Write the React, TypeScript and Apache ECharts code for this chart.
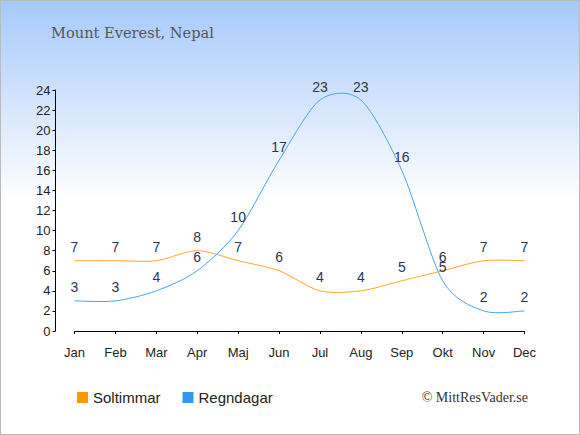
import React, { useEffect, useRef } from "react";
import * as echarts from "echarts";

const months = ["Jan", "Feb", "Mar", "Apr", "Maj", "Jun", "Jul", "Aug", "Sep", "Okt", "Nov", "Dec"];
const soltimmar = [7, 7, 7, 8, 7, 6, 4, 4, 5, 6, 7, 7];
const regndagar = [3, 3, 4, 6, 10, 17, 23, 23, 16, 5, 2, 2];
const seriesNames = ["Soltimmar", "Regndagar"];
const seriesColors = ["#ff9900", "#3399ee"];
const lineColors = ["#ffa726", "#4aa3ec"];
const titleText = "Mount Everest, Nepal";
const creditText = "© MittResVader.se";

const K = 0.14;

function makeRenderItem(values: number[], stroke: string) {
  return (params: any, api: any) => {
    const i = params.dataIndex;
    if (i >= values.length - 1) return null;
    const n = values.length;
    const p = (j: number) => {
      const jj = Math.max(0, Math.min(n - 1, j));
      return api.coord([jj, values[jj]]);
    };
    const p0 = p(i - 1);
    const p1 = p(i);
    const p2 = p(i + 1);
    const p3 = p(i + 2);
    const c1 = [p1[0] + (p2[0] - p0[0]) * K, p1[1] + (p2[1] - p0[1]) * K];
    const c2 = [p2[0] - (p3[0] - p1[0]) * K, p2[1] - (p3[1] - p1[1]) * K];
    const d = `M${p1[0]},${p1[1]} C${c1[0]},${c1[1]} ${c2[0]},${c2[1]} ${p2[0]},${p2[1]}`;
    return {
      type: "path",
      shape: { pathData: d },
      style: { stroke, fill: "none", lineWidth: 1 },
      silent: true,
    };
  };
}

export default function App() {
  const ref = useRef<HTMLDivElement>(null);
  useEffect(() => {
    document.body.style.margin = "0";
    if (!ref.current) return;
    const chart = echarts.init(ref.current, null, { renderer: "svg" });
    const labelStyle = {
      show: true,
      position: "top" as const,
      distance: 6,
      color: "#2a3550",
      fontSize: 14,
      fontFamily: "Liberation Sans, Arial, sans-serif",
    };
    const allValues = [soltimmar, regndagar];
    const curveSeries = allValues.map((vals, s) => ({
      name: seriesNames[s],
      type: "custom",
      coordinateSystem: "cartesian2d",
      data: vals.map((v, i) => [i, v]),
      encode: { x: 0, y: 1 },
      clip: false,
      itemStyle: { color: seriesColors[s] },
      renderItem: makeRenderItem(vals, lineColors[s]),
      z: 2,
    }));
    const labelSeries = allValues.map((vals, s) => ({
      name: "labels_" + s,
      type: "line",
      data: vals,
      symbol: "circle",
      symbolSize: 1,
      showSymbol: true,
      itemStyle: { color: "rgba(0,0,0,0)" },
      lineStyle: { opacity: 0, width: 0 },
      label: labelStyle,
      silent: true,
      z: 3,
    }));
    chart.setOption({
      animation: false,
      backgroundColor: {
        type: "linear",
        x: 0,
        y: 0,
        x2: 0,
        y2: 1,
        colorStops: [
          { offset: 0, color: "#a6c9fb" },
          { offset: 0.46, color: "#ffffff" },
          { offset: 1, color: "#ffffff" },
        ],
      },
      title: {
        text: titleText,
        left: 45,
        top: 19,
        textStyle: {
          fontFamily: "DejaVu Serif, serif",
          fontSize: 14.6,
          fontWeight: "normal",
          color: "#555555",
        },
      },
      legend: {
        left: 71,
        top: 384,
        itemWidth: 11,
        itemHeight: 11,
        itemGap: 22,
        icon: "rect",
        textStyle: {
          fontFamily: "Liberation Sans, Arial, sans-serif",
          fontSize: 15,
          color: "#222222",
        },
        data: seriesNames,
      },
      graphic: [
        {
          type: "text",
          right: 51,
          top: 389,
          style: {
            text: creditText,
            fontFamily: "Liberation Serif, Times New Roman, serif",
            fontSize: 14,
            fill: "#333333",
          },
        },
      ],
      grid: { left: 73.5, right: 54.5, top: 89, bottom: 103 },
      xAxis: {
        type: "category",
        data: months,
        boundaryGap: false,
        offset: 10,
        axisLine: { lineStyle: { color: "#000", width: 1 } },
        axisTick: { show: true, length: 3, lineStyle: { color: "#000" } },
        axisLabel: {
          color: "#222",
          fontSize: 13,
          margin: 5,
          fontFamily: "Liberation Sans, Arial, sans-serif",
        },
        splitLine: { show: false },
      },
      yAxis: {
        type: "value",
        min: 0,
        max: 24,
        interval: 2,
        offset: 19,
        axisLine: { show: true, lineStyle: { color: "#000", width: 1 } },
        axisTick: { show: true, length: 3, lineStyle: { color: "#000" } },
        axisLabel: {
          color: "#222",
          fontSize: 13,
          margin: 5,
          fontFamily: "Liberation Sans, Arial, sans-serif",
        },
        splitLine: { show: false },
      },
      series: [...curveSeries, ...labelSeries],
    });
    return () => chart.dispose();
  }, []);
  return (
    <div
      style={{
        width: 580,
        height: 435,
        border: "1px solid #bbbbbb",
        boxSizing: "border-box",
      }}
    >
      <div ref={ref} style={{ width: 578, height: 433 }} />
    </div>
  );
}
